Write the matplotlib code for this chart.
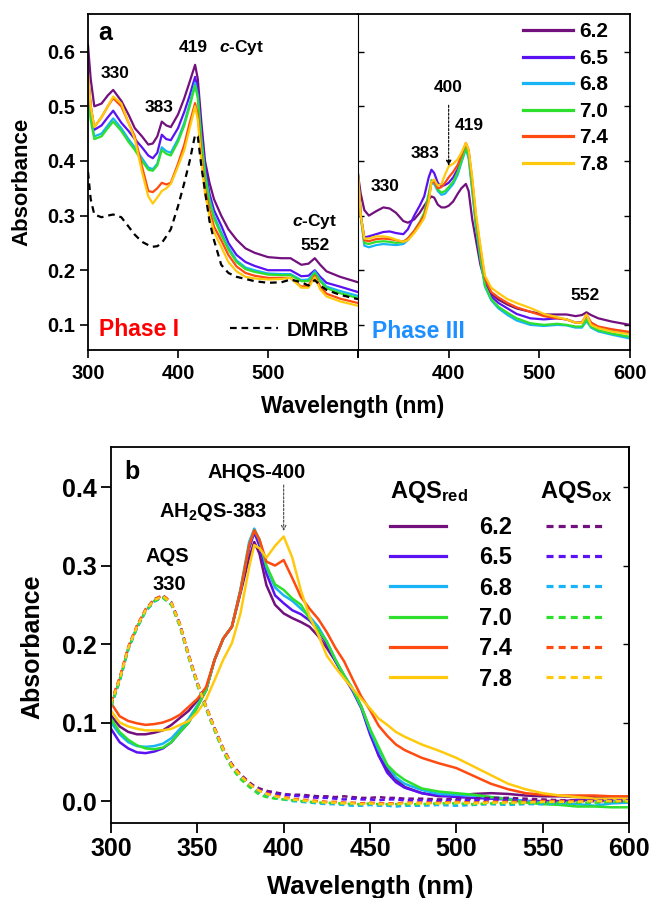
import matplotlib
matplotlib.use("Agg")
import matplotlib.pyplot as plt
from matplotlib.ticker import FormatStrFormatter

plt.rcParams['font.family'] = ['Liberation Sans', 'DejaVu Sans']
plt.rcParams['font.weight'] = 'bold'
plt.rcParams['axes.labelweight'] = 'bold'
plt.rcParams['mathtext.fontset'] = 'custom'
plt.rcParams['mathtext.rm'] = 'Liberation Sans:bold'
plt.rcParams['mathtext.bf'] = 'Liberation Sans:bold'
plt.rcParams['mathtext.it'] = 'Liberation Sans:italic:bold'
plt.rcParams['mathtext.sf'] = 'Liberation Sans:bold'

# ---------------- data ----------------
ph_labels = ['6.2', '6.5', '6.8', '7.0', '7.4', '7.8']
colors = ['#72107e', '#5a12f2', '#18b4f5', '#2de02d', '#ff4a10', '#ffc90e']

# Panel a, Phase I
wl_p1 = [300, 303, 307, 315, 322, 328, 337, 345, 352, 360, 367, 372, 377, 382, 387, 392, 400, 407, 413, 419,
         422, 426, 430, 435, 440, 448, 456, 465, 475, 485, 500, 515, 525, 537, 545, 552, 558, 565, 580, 600]
p1_62 = [0.612, 0.55, 0.5, 0.505, 0.52, 0.53, 0.51, 0.485, 0.46, 0.445, 0.43, 0.432, 0.445, 0.472, 0.465, 0.462,
         0.485, 0.515, 0.545, 0.576, 0.55, 0.47, 0.4, 0.36, 0.33, 0.3, 0.275, 0.256, 0.24, 0.232, 0.224, 0.222,
         0.222, 0.21, 0.212, 0.222, 0.21, 0.198, 0.188, 0.178]
p1_65 = [0.56, 0.5, 0.457, 0.465, 0.48, 0.492, 0.47, 0.455, 0.44, 0.425, 0.41, 0.405, 0.415, 0.448, 0.44, 0.438,
         0.46, 0.49, 0.52, 0.554, 0.53, 0.45, 0.39, 0.34, 0.31, 0.282, 0.25, 0.228, 0.215, 0.208, 0.2, 0.2,
         0.2, 0.189, 0.19, 0.2, 0.188, 0.177, 0.17, 0.16]
p1_68 = [0.545, 0.48, 0.445, 0.45, 0.465, 0.478, 0.46, 0.44, 0.425, 0.405, 0.388, 0.385, 0.395, 0.425, 0.418, 0.415,
         0.44, 0.47, 0.505, 0.543, 0.52, 0.44, 0.38, 0.33, 0.3, 0.27, 0.242, 0.218, 0.205, 0.2, 0.194, 0.193,
         0.193, 0.182, 0.183, 0.198, 0.183, 0.17, 0.162, 0.153]
p1_70 = [0.54, 0.475, 0.44, 0.445, 0.46, 0.472, 0.455, 0.435, 0.42, 0.4, 0.384, 0.382, 0.392, 0.42, 0.413, 0.41,
         0.435, 0.465, 0.5, 0.538, 0.515, 0.435, 0.375, 0.325, 0.295, 0.265, 0.238, 0.215, 0.202, 0.197, 0.192, 0.191,
         0.191, 0.18, 0.18, 0.195, 0.18, 0.167, 0.158, 0.149]
p1_74 = [0.55, 0.5, 0.462, 0.48, 0.5, 0.515, 0.5, 0.47, 0.445, 0.39, 0.345, 0.343, 0.35, 0.36, 0.357, 0.36,
         0.395, 0.43, 0.47, 0.506, 0.485, 0.41, 0.35, 0.31, 0.28, 0.255, 0.228, 0.207, 0.195, 0.19, 0.186, 0.186,
         0.186, 0.17, 0.172, 0.19, 0.17, 0.157, 0.148, 0.14]
p1_78 = [0.56, 0.5, 0.462, 0.48, 0.5, 0.518, 0.505, 0.47, 0.44, 0.38, 0.335, 0.322, 0.333, 0.345, 0.35, 0.358,
         0.39, 0.42, 0.46, 0.5, 0.475, 0.4, 0.34, 0.3, 0.27, 0.243, 0.215, 0.198, 0.188, 0.185, 0.183, 0.184,
         0.186, 0.168, 0.168, 0.187, 0.165, 0.152, 0.143, 0.135]
p1_dmrb = [0.38, 0.33, 0.302, 0.297, 0.3, 0.302, 0.297, 0.28, 0.265, 0.252, 0.246, 0.243, 0.244, 0.25, 0.262, 0.275,
           0.317, 0.36, 0.4, 0.448, 0.445, 0.39, 0.345, 0.29, 0.255, 0.21, 0.195, 0.188, 0.184, 0.18, 0.177, 0.178,
           0.183, 0.178, 0.172, 0.182, 0.172, 0.164, 0.155, 0.147]

# Panel a, Phase III
wl_p3 = [300, 303, 307, 312, 320, 328, 335, 342, 350, 355, 362, 368, 373, 378, 381, 384, 388, 392, 396, 400, 405,
         410, 414, 419, 422, 426, 430, 435, 440, 447, 455, 465, 475, 490, 505, 520, 530, 540, 547, 552, 557, 565,
         580, 600]
p3_62 = [0.375, 0.34, 0.31, 0.3, 0.308, 0.315, 0.313, 0.305, 0.29, 0.287, 0.293, 0.305, 0.318, 0.33, 0.335, 0.333,
         0.32, 0.315, 0.315, 0.318, 0.326, 0.34, 0.35, 0.358, 0.345, 0.293, 0.256, 0.21, 0.18, 0.157, 0.146, 0.137,
         0.13, 0.124, 0.119, 0.119, 0.119, 0.116, 0.118, 0.123, 0.118, 0.112, 0.106, 0.1]
p3_65 = [0.375, 0.3, 0.26, 0.262, 0.266, 0.27, 0.271, 0.268, 0.266, 0.275, 0.3, 0.318, 0.335, 0.37, 0.384, 0.378,
         0.36, 0.354, 0.356, 0.36, 0.37, 0.385, 0.405, 0.428, 0.415, 0.355, 0.29, 0.23, 0.18, 0.152, 0.14, 0.13,
         0.12, 0.112, 0.11, 0.112, 0.11, 0.104, 0.105, 0.116, 0.104, 0.096, 0.09, 0.085]
p3_68 = [0.375, 0.3, 0.245, 0.242, 0.246, 0.248, 0.247, 0.246, 0.248, 0.255, 0.27, 0.285, 0.3, 0.335, 0.36, 0.358,
         0.345, 0.338, 0.34, 0.348, 0.358, 0.375, 0.397, 0.422, 0.405, 0.345, 0.28, 0.22, 0.17, 0.145, 0.13, 0.118,
         0.108, 0.1, 0.098, 0.1, 0.099, 0.095, 0.095, 0.107, 0.095, 0.088, 0.082, 0.075]
p3_70 = [0.375, 0.3, 0.25, 0.248, 0.252, 0.253, 0.252, 0.25, 0.252, 0.258, 0.272, 0.288, 0.305, 0.34, 0.365, 0.362,
         0.348, 0.342, 0.345, 0.352, 0.362, 0.38, 0.4, 0.425, 0.41, 0.35, 0.285, 0.225, 0.172, 0.147, 0.133, 0.122,
         0.112, 0.103, 0.1, 0.102, 0.1, 0.097, 0.097, 0.11, 0.097, 0.09, 0.084, 0.078]
p3_74 = [0.375, 0.3, 0.255, 0.253, 0.257, 0.258, 0.257, 0.255, 0.252, 0.258, 0.272, 0.287, 0.3, 0.33, 0.36, 0.363,
         0.35, 0.352, 0.36, 0.37, 0.38, 0.393, 0.41, 0.433, 0.42, 0.365, 0.3, 0.24, 0.185, 0.16, 0.15, 0.14,
         0.132, 0.124, 0.116, 0.112, 0.11, 0.104, 0.104, 0.119, 0.104, 0.097, 0.092, 0.087]
p3_78 = [0.375, 0.3, 0.258, 0.258, 0.262, 0.262, 0.26, 0.256, 0.252, 0.255, 0.268, 0.282, 0.295, 0.325, 0.362, 0.366,
         0.355, 0.358, 0.375, 0.39, 0.395, 0.403, 0.415, 0.433, 0.42, 0.37, 0.305, 0.245, 0.19, 0.168, 0.158, 0.147,
         0.14, 0.131, 0.12, 0.114, 0.11, 0.104, 0.104, 0.119, 0.1, 0.094, 0.088, 0.083]

# Panel b
wl_b = [300, 305, 310, 315, 320, 325, 330, 335, 340, 345, 350, 355, 360, 365, 370, 375, 380,
        383, 386,
        390, 395, 400, 405, 410, 415, 420, 425, 430, 435, 440, 445, 450, 455, 460, 465, 470,
        480, 490, 500, 510, 520, 530, 540, 550, 560, 570, 580, 590, 600]
red_62 = [0.109, 0.095, 0.088, 0.085, 0.085, 0.087, 0.09, 0.097, 0.106, 0.115, 0.128, 0.141, 0.18, 0.207, 0.222, 0.265, 0.31,
          0.33, 0.315,
          0.275, 0.25, 0.239, 0.233, 0.228, 0.222, 0.21, 0.195, 0.178, 0.16, 0.142, 0.12, 0.09, 0.058, 0.04, 0.028, 0.018,
          0.01, 0.006, 0.007, 0.009, 0.01, 0.009, 0.007, 0.006, 0.006, 0.005, 0.005, 0.003, 0.003]
red_65 = [0.092, 0.075, 0.067, 0.062, 0.061, 0.063, 0.067, 0.075, 0.088, 0.1, 0.12, 0.141, 0.18, 0.207, 0.222, 0.268, 0.322,
          0.342, 0.325,
          0.29, 0.262, 0.252, 0.243, 0.238, 0.23, 0.218, 0.2, 0.178, 0.158, 0.14, 0.118, 0.085, 0.058, 0.036, 0.024, 0.017,
          0.01, 0.007, 0.005, 0.004, 0.003, 0.002, 0.0, 0.0, 0.0, 0.001, 0.002, 0.002, 0.003]
red_68 = [0.1, 0.085, 0.075, 0.07, 0.069, 0.07, 0.073, 0.08, 0.092, 0.105, 0.122, 0.141, 0.18, 0.207, 0.222, 0.27, 0.33,
          0.347, 0.332,
          0.298, 0.272, 0.262, 0.255, 0.245, 0.235, 0.222, 0.203, 0.18, 0.16, 0.142, 0.12, 0.09, 0.065, 0.045, 0.03, 0.022,
          0.014, 0.009, 0.008, 0.007, 0.005, 0.003, 0.0, -0.002, -0.003, -0.004, -0.006, -0.003, -0.002]
red_70 = [0.105, 0.088, 0.078, 0.071, 0.067, 0.066, 0.068, 0.075, 0.088, 0.1, 0.12, 0.141, 0.18, 0.207, 0.222, 0.268, 0.326,
          0.345, 0.333,
          0.3, 0.276, 0.269, 0.258, 0.25, 0.232, 0.218, 0.203, 0.18, 0.16, 0.143, 0.12, 0.092, 0.069, 0.046, 0.035, 0.027,
          0.016, 0.012, 0.01, 0.008, 0.005, 0.002, -0.002, -0.004, -0.005, -0.007, -0.007, -0.008, -0.008]
red_74 = [0.125, 0.108, 0.102, 0.099, 0.097, 0.098, 0.1, 0.104, 0.11, 0.12, 0.13, 0.145, 0.18, 0.207, 0.222, 0.268, 0.326,
          0.345, 0.333,
          0.305, 0.3, 0.307, 0.284, 0.26, 0.245, 0.232, 0.215, 0.195, 0.178, 0.155, 0.133, 0.116, 0.096, 0.083, 0.072, 0.065,
          0.055, 0.048, 0.042, 0.032, 0.022, 0.015, 0.01, 0.008, 0.007, 0.007, 0.007, 0.006, 0.006]
red_78 = [0.115, 0.1, 0.095, 0.092, 0.09, 0.09, 0.09, 0.092, 0.097, 0.102, 0.113, 0.129, 0.154, 0.18, 0.201, 0.239, 0.298,
          0.326, 0.322,
          0.31, 0.325, 0.337, 0.31, 0.268, 0.235, 0.212, 0.185, 0.17, 0.156, 0.143, 0.13, 0.118, 0.105, 0.097, 0.088, 0.082,
          0.072, 0.064, 0.055, 0.044, 0.033, 0.022, 0.015, 0.01, 0.007, 0.005, 0.003, 0.003, 0.003]
ox_62 = [0.125, 0.156, 0.196, 0.223, 0.244, 0.257, 0.262, 0.253, 0.225, 0.186, 0.151, 0.121, 0.093, 0.067, 0.047, 0.034, 0.024,
         0.019, 0.016,
         0.013, 0.011, 0.009, 0.008, 0.008, 0.007, 0.006, 0.006, 0.005, 0.006, 0.005, 0.004, 0.004, 0.005, 0.004, 0.004, 0.003,
         0.003, 0.002, 0.003, 0.003, 0.004, 0.004, 0.003, 0.002, 0.001, 0.001, 0.0, 0.0, 0.0]
ox_65 = [0.122, 0.154, 0.194, 0.221, 0.242, 0.255, 0.26, 0.251, 0.223, 0.184, 0.149, 0.119, 0.091, 0.065, 0.045, 0.032, 0.022,
         0.018, 0.014,
         0.011, 0.009, 0.008, 0.007, 0.006, 0.005, 0.004, 0.004, 0.003, 0.002, 0.003, 0.002, 0.002, 0.001, 0.002, 0.002, 0.001,
         0.001, 0.0, 0.001, 0.001, 0.002, 0.001, 0.0, -0.001, -0.001, 0.0, 0.0, 0.001, 0.001]
ox_68 = [0.12, 0.152, 0.193, 0.22, 0.241, 0.254, 0.259, 0.25, 0.222, 0.183, 0.148, 0.118, 0.09, 0.064, 0.043, 0.03, 0.02,
         0.015, 0.011,
         0.007, 0.004, 0.002, 0.0, -0.001, -0.002, -0.003, -0.004, -0.004, -0.005, -0.006, -0.006, -0.005, -0.006, -0.006, -0.007, -0.006,
         -0.006, -0.005, -0.006, -0.005, -0.004, -0.005, -0.004, -0.004, -0.003, -0.003, -0.002, -0.002, -0.002]
ox_70 = [0.121, 0.153, 0.194, 0.221, 0.242, 0.255, 0.259, 0.25, 0.222, 0.183, 0.148, 0.118, 0.09, 0.063, 0.042, 0.028, 0.018,
         0.013, 0.008,
         0.005, 0.003, 0.002, 0.001, 0.0, -0.001, -0.002, -0.002, -0.003, -0.003, -0.004, -0.004, -0.003, -0.004, -0.004, -0.004, -0.004,
         -0.004, -0.003, -0.003, -0.004, -0.003, -0.003, -0.003, -0.002, -0.002, -0.002, -0.002, -0.001, -0.001]
ox_74 = [0.126, 0.157, 0.196, 0.223, 0.244, 0.257, 0.262, 0.253, 0.225, 0.186, 0.151, 0.121, 0.093, 0.067, 0.046, 0.033, 0.022,
         0.017, 0.013,
         0.01, 0.007, 0.005, 0.003, 0.002, 0.001, 0.0, -0.001, -0.001, -0.002, -0.002, -0.003, -0.002, -0.003, -0.003, -0.003, -0.002,
         -0.002, -0.002, -0.001, -0.002, -0.001, -0.001, -0.001, 0.0, 0.0, 0.0, 0.0, 0.0, 0.0]
ox_78 = [0.124, 0.155, 0.195, 0.222, 0.243, 0.256, 0.261, 0.252, 0.224, 0.185, 0.15, 0.12, 0.092, 0.066, 0.045, 0.032, 0.022,
         0.017, 0.013,
         0.009, 0.006, 0.004, 0.002, 0.001, 0.0, -0.001, -0.002, -0.002, -0.003, -0.003, -0.004, -0.003, -0.004, -0.004, -0.004, -0.003,
         -0.003, -0.003, -0.002, -0.003, -0.002, -0.002, -0.002, -0.001, -0.001, -0.001, 0.0, 0.0, 0.0]

p1_series = [p1_62, p1_65, p1_68, p1_70, p1_74, p1_78]
p3_series = [p3_62, p3_65, p3_68, p3_70, p3_74, p3_78]
red_series = [red_62, red_65, red_68, red_70, red_74, red_78]
ox_series = [ox_62, ox_65, ox_68, ox_70, ox_74, ox_78]

# ---------------- figure ----------------
W, H = 652, 898
fig = plt.figure(figsize=(W / 100, H / 100), dpi=100)

ax1 = fig.add_axes([88 / W, 1 - 350 / H, 270 / W, 336 / H])
ax2 = fig.add_axes([358 / W, 1 - 350 / H, 272 / W, 336 / H])
ax3 = fig.add_axes([111 / W, 1 - 823 / H, 518 / W, 376 / H])

lw_a = 1.6
for ys, c in zip(p1_series, colors):
    ax1.plot(wl_p1, ys, color=c, lw=lw_a)
dmrb_line, = ax1.plot(wl_p1, p1_dmrb, color='k', lw=1.6, dashes=(3, 2.2))

handles_a = []
for ys, c, lab in zip(p3_series, colors, ph_labels):
    h, = ax2.plot(wl_p3, ys, color=c, lw=lw_a, label=lab)
    handles_a.append(h)

red_handles, ox_handles = [], []
for ys, c in zip(red_series, colors):
    h, = ax3.plot(wl_b, ys, color=c, lw=1.8)
    red_handles.append(h)
for ys, c in zip(ox_series, colors):
    h, = ax3.plot(wl_b, ys, color=c, lw=1.8, dashes=(2.2, 1.6))
    ox_handles.append(h)

# ---------------- axes styling ----------------
tick_a = 14.5
for ax in (ax1, ax2):
    ax.set_xlim(300, 600)
    ax.set_ylim(0.054, 0.669)
    ax.set_yticks([0.1, 0.2, 0.3, 0.4, 0.5, 0.6])
    for s in ax.spines.values():
        s.set_linewidth(1.3)

ax1.set_xticks([300, 400, 500, 600])
ax1.set_xticklabels(['300', '400', '500', ''])
ax2.set_xticks([300, 400, 500, 600])
ax2.set_xticklabels(['', '400', '500', '600'])
ax1.spines['right'].set_visible(False)
ax2.spines['left'].set_linewidth(0.8)

ax1.yaxis.set_major_formatter(FormatStrFormatter('%.1f'))
ax1.tick_params(axis='y', direction='out', length=6, width=1.2, pad=3, labelsize=tick_a, left=True, right=False)
ax1.tick_params(axis='x', direction='out', length=6, width=1.2, pad=4, labelsize=tick_a, top=False)
ax2.tick_params(axis='y', direction='in', length=4, width=1.0, left=True, right=True, labelleft=False, labelright=False)
ax2.tick_params(axis='x', direction='out', length=6, width=1.2, pad=4, labelsize=tick_a, top=False)

ax1.set_ylabel('Absorbance', fontsize=16, fontweight='bold')
ax1.yaxis.set_label_coords((32 - 88) / 270, 0.5)
ax1.set_xlabel('Wavelength (nm)', fontsize=16.5, fontweight='bold')
ax1.xaxis.set_label_coords((353 - 88) / 270, (350 - 407) / 336)
ax1.xaxis.label.set_va('center')

ax3.set_xlim(300, 600)
ax3.set_ylim(-0.028, 0.451)
ax3.set_xticks([300, 350, 400, 450, 500, 550, 600])
ax3.set_yticks([0.0, 0.1, 0.2, 0.3, 0.4])
ax3.yaxis.set_major_formatter(FormatStrFormatter('%.1f'))
for s in ax3.spines.values():
    s.set_linewidth(1.3)
ax3.tick_params(axis='both', direction='out', length=7, width=1.3, pad=3, labelsize=18, top=False, right=False)
sec = ax3.secondary_yaxis('right')
sec.set_yticks([0.0, 0.1, 0.2, 0.3, 0.4])
sec.tick_params(direction='in', length=4, width=1.0, labelright=False)
sec.spines['right'].set_linewidth(1.3)
ax3.set_ylabel('Absorbance', fontsize=18, fontweight='bold')
ax3.yaxis.set_label_coords((44 - 111) / 518, 0.47)
ax3.set_xlabel('Wavelength (nm)', fontsize=18.5, fontweight='bold')
ax3.xaxis.set_label_coords(0.5, (823 - 887) / 376)
ax3.xaxis.label.set_va('center')

# ---------------- annotations panel a ----------------
fs_n = 12.5
ax1.text(311, 0.634, 'a', fontsize=18, ha='left', va='center')
ax1.text(330, 0.561, '330', fontsize=fs_n, ha='center', va='center')
ax1.text(379, 0.497, '383', fontsize=fs_n, ha='center', va='center')
ax1.text(416.7, 0.607, '419', fontsize=fs_n, ha='center', va='center')
ax1.text(471, 0.607, '$c$-Cyt', fontsize=fs_n, ha='center', va='center')
ax1.text(552, 0.289, '$c$-Cyt', fontsize=fs_n, ha='center', va='center')
ax1.text(552, 0.245, '552', fontsize=fs_n, ha='center', va='center')
ax1.text(312, 0.091, 'Phase I', fontsize=16.5, color='#ff0000', ha='left', va='center')

leg_d = ax1.legend([dmrb_line], ['DMRB'], loc='center left', bbox_to_anchor=((230 - 88) / 270, (350 - 330) / 336),
                   frameon=False, fontsize=15, handlelength=2.3, handletextpad=0.43, borderpad=0, borderaxespad=0)

ax2.text(329.8, 0.353, '330', fontsize=fs_n, ha='center', va='center')
ax2.text(374, 0.413, '383', fontsize=fs_n, ha='center', va='center')
ax2.text(399.4, 0.535, '400', fontsize=fs_n, ha='center', va='center')
ax2.text(422.6, 0.464, '419', fontsize=fs_n, ha='center', va='center')
ax2.text(550.8, 0.153, '552', fontsize=fs_n, ha='center', va='center')
ax2.text(315.5, 0.088, 'Phase III', fontsize=16.5, color='#1e8fff', ha='left', va='center')
ax2.annotate('', xy=(400, 0.391), xytext=(400, 0.502),
             arrowprops=dict(arrowstyle='-|>', linestyle=(0, (2, 1.5)), lw=0.8, color='k',
                             mutation_scale=8, shrinkA=0, shrinkB=0))

leg_a = ax2.legend(handles_a, ph_labels, loc='upper left', bbox_to_anchor=((523 - 358) / 272, 0.975),
                   frameon=False, fontsize=15, handlelength=2.4, handletextpad=0.3, labelspacing=0.36,
                   borderpad=0, borderaxespad=0)
for ln in leg_a.get_lines():
    ln.set_linewidth(2.3)

# ---------------- annotations panel b ----------------
fs_b = 14.5
ax3.text(308, 0.419, 'b', fontsize=18, ha='left', va='center')
ax3.text(384.5, 0.418, 'AHQS-400', fontsize=fs_b, ha='center', va='center')
ax3.text(359, 0.368, r'AH$_\mathregular{2}$QS-383', fontsize=fs_b, ha='center', va='center')
ax3.text(332.4, 0.311, 'AQS', fontsize=fs_b, ha='center', va='center')
ax3.text(333.6, 0.276, '330', fontsize=fs_b, ha='center', va='center')
ax3.annotate('', xy=(400, 0.344), xytext=(400, 0.4025),
             arrowprops=dict(arrowstyle='->', linestyle=(0, (2, 1.5)), lw=0.8, color='#444444',
                             mutation_scale=8, shrinkA=0, shrinkB=0))
ax3.text(461.5, 0.394, r'AQS$_\mathregular{red}$', fontsize=17, ha='left', va='center')
ax3.text(548.4, 0.394, r'AQS$_\mathregular{ox}$', fontsize=17, ha='left', va='center')

leg_b = ax3.legend(red_handles + ox_handles, ph_labels + [''] * 6, loc='upper left', ncol=2,
                   bbox_to_anchor=((390 - 111) / 518, (823 - 516) / 376), frameon=False, fontsize=17,
                   handlelength=2.37, handletextpad=1.42, columnspacing=1.4, labelspacing=0.31,
                   borderpad=0, borderaxespad=0)
for ln in leg_b.get_lines():
    ln.set_linewidth(2.3)

fig.savefig('out.png', dpi=100)
